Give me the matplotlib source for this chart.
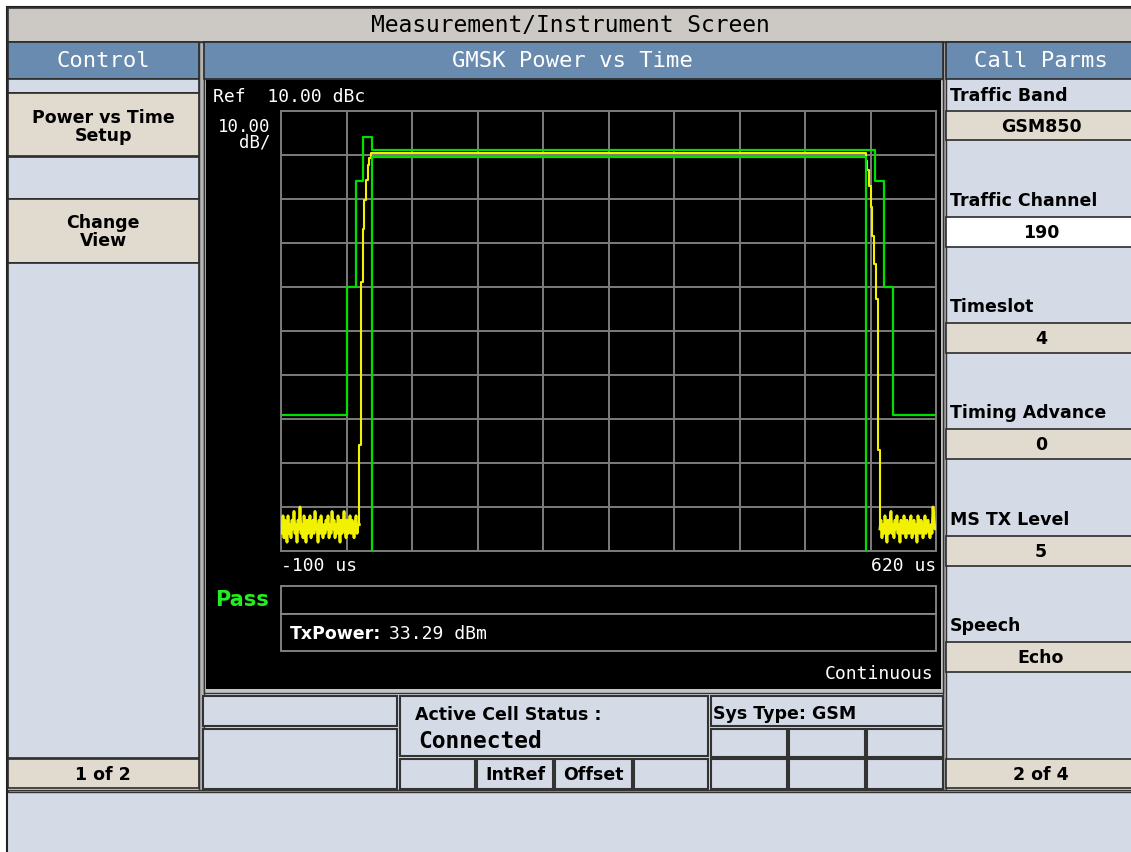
import numpy as np
import matplotlib
matplotlib.use("Agg")
import matplotlib.pyplot as plt
from matplotlib.patches import Rectangle

# ---------------- data ----------------
time_range_us = [-100, 620]
ref_level_dbc = 10.0
db_per_div = 10.0
n_div = 10

# upper limit mask (steps-post)
mask_upper_t = [-100, -28, -18, -10, 0, 552.8, 562.8, 572.8, 620]
mask_upper_db = [-59, -30, -6, 4, 1.2, -6, -30, -59, -59]

# lower limit mask
mask_lower_t = [0, 0, 542.8, 542.8]
mask_lower_db = [-90, -0.4, -0.4, -90]

# measured trace
noise_step_us = 1.1
noise_left_start_us = -100
noise_left_db = [-84, -86, -82, -87, -83, -85, -88, -82, -86, -84,
                 -87, -83, -85, -81, -86, -84, -88, -83, -85, -80,
                 -86, -84, -87, -82, -85, -88, -83, -86, -84, -82,
                 -87, -85, -83, -86, -81, -85, -84, -88, -83, -86,
                 -82, -85, -87, -84, -86, -83, -85, -82, -87, -84,
                 -86, -81, -85, -83, -87, -84, -86, -82, -85, -88,
                 -83, -86, -84, -81, -85, -87, -83, -86, -84, -82,
                 -86, -83, -85, -87, -84, -82, -86, -84]
ramp_up_t = [-13.9, -12.4, -10.2, -8.4, -6.6, -4.7, -2.9, -1.4]
ramp_up_db = [-65.8, -28.8, -16.8, -10.2, -5.6, -2.3, -0.75, 0.4]
ramp_down_t = [543.4, 544.5, 546.4, 548.2, 550.0, 552.2, 554.0, 555.9]
ramp_down_db = [-1.3, -3.3, -7.0, -11.9, -18.3, -24.8, -32.7, -67.0]
noise_right_start_us = 558.4
noise_right_db = [-85, -83, -87, -84, -86, -82, -85, -88, -83, -86,
                  -84, -81, -86, -84, -87, -83, -85, -82, -86, -84,
                  -88, -83, -85, -86, -82, -84, -87, -83, -85, -86,
                  -84, -82, -87, -85, -83, -86, -84, -88, -82, -85,
                  -86, -83, -84, -87, -85, -82, -86, -84, -83, -85,
                  -87, -84, -86, -80, -83, -85]

# screen texts
title_text = "Measurement/Instrument Screen"
left_header = "Control"
center_header = "GMSK Power vs Time"
right_header = "Call Parms"
control_buttons = ["Power vs Time\nSetup", "Change\nView"]
call_parm_labels = ["Traffic Band", "Traffic Channel", "Timeslot",
                    "Timing Advance", "MS TX Level", "Speech"]
call_parm_values = ["GSM850", "190", "4", "0", "5", "Echo"]
tx_power_label = "TxPower:"
tx_power_value = "33.29 dBm"

# ---------------- style ----------------
LB = "#d4dbe6"
BLUE = "#688baf"
BEIGE = "#e1dace"
TITLE = "#ccc9c4"
GREEN = "#00e000"
YELLOW = "#f2f200"
GRID = "#7c7c7c"
MONO = "DejaVu Sans Mono"
SANS = "DejaVu Sans"

W, H = 1131, 853
fig = plt.figure(figsize=(W / 100, H / 100), dpi=100)
fig.patch.set_facecolor("white")

bg = fig.add_axes([0, 0, 1, 1])
bg.set_xlim(0, W)
bg.set_ylim(H, 0)
bg.axis("off")


def box(x0, y0, x1, y1, fc, ec="#2b2b2b", lw=1.2, z=1):
    bg.add_patch(Rectangle((x0, y0), x1 - x0, y1 - y0, facecolor=fc,
                           edgecolor=ec if ec else "none", linewidth=lw, zorder=z))


def txt(x, y, s, **kw):
    kw.setdefault("va", "center")
    bg.text(x, y, s, zorder=5, **kw)


# overall screen
box(7, 8, 1140, 870, LB, ec="#222", lw=1.5)
box(8, 9, 1140, 42.5, TITLE, ec="#333")
txt(570, 25, title_text, ha="center", family=MONO, fontsize=16.5, color="black")

# left column
box(8, 43, 199, 79.5, BLUE)
box(8, 80, 199, 93.5, LB)
box(8, 94, 199, 157, BEIGE)
box(8, 158, 199, 199.5, LB)
box(8, 200, 199, 263.5, BEIGE)
box(8, 264, 199, 759, LB)
box(8, 759.5, 199, 789, BEIGE)
txt(103, 61, left_header, ha="center", family=MONO, fontsize=16, color="white")
txt(103, 127, control_buttons[0], ha="center", family=SANS, fontsize=12.5,
    fontweight="bold", linespacing=0.95)
txt(103, 232, control_buttons[1], ha="center", family=SANS, fontsize=12.5,
    fontweight="bold", linespacing=0.95)
txt(103, 775, "1 of 2", ha="center", family=SANS, fontsize=12.5, fontweight="bold")

# separators
box(199, 43, 204, 792, "#b4b4b4", ec="#333", lw=1)
box(943, 43, 946, 792, "#b4b4b4", ec="#333", lw=1)

# center
box(204, 43, 943, 79.5, BLUE)
txt(572, 61, center_header, ha="center", family=MONO, fontsize=16, color="white")
box(204, 79.5, 943, 693.5, "#c4c4c4", ec="#333", lw=1)
box(206, 80.5, 941, 690, "black", ec=None)

# right column
box(946, 43, 1140, 79.5, BLUE)
txt(1041, 61, right_header, ha="center", family=MONO, fontsize=16, color="white")
value_boxes = [(112, 141), (218, 248), (324, 354), (430, 460), (537, 567), (643, 673)]
label_y = [96, 201, 307, 413, 520, 626]
for (y0, y1), ly, lab, val in zip(value_boxes, label_y, call_parm_labels, call_parm_values):
    fc = "white" if val == "190" else BEIGE
    box(946, y0, 1140, y1, fc)
    txt(950, ly, lab, ha="left", family=SANS, fontsize=12.5, fontweight="bold")
    txt(1041, (y0 + y1) / 2, val, ha="center", family=SANS, fontsize=12.5, fontweight="bold")
box(946, 759.5, 1140, 789, BEIGE)
txt(1041, 775, "2 of 4", ha="center", family=SANS, fontsize=12.5, fontweight="bold")

# bottom strip line
box(8, 790.5, 1140, 793, "#b4b4b4", ec="#333", lw=1)

# status area
for (x0, y0, x1, y1) in [(203, 697, 397, 727), (203, 730, 397, 790), (400, 697, 708, 757),
                         (400, 760, 475, 790), (477, 760, 553, 790), (555, 760, 632, 790),
                         (634, 760, 708, 790), (711, 697, 943, 727),
                         (711, 730, 787, 758), (789, 730, 865, 758), (867, 730, 943, 758),
                         (711, 760, 787, 790), (789, 760, 865, 790), (867, 760, 943, 790)]:
    box(x0, y0, x1, y1, LB, ec="#333", lw=1.5, z=2)
txt(415, 715, "Active Cell Status :", ha="left", family=SANS, fontsize=12.5, fontweight="bold")
txt(418, 741, "Connected", ha="left", family=MONO, fontsize=16.5, fontweight="bold")
txt(713, 714, "Sys Type: GSM", ha="left", family=SANS, fontsize=12.5, fontweight="bold")
txt(515, 775, "IntRef", ha="center", family=SANS, fontsize=12.5, fontweight="bold")
txt(593, 775, "Offset", ha="center", family=SANS, fontsize=12.5, fontweight="bold")

# plot-area texts and boxes
txt(213, 97, "Ref  10.00 dBc", ha="left", family=MONO, fontsize=13, color="white")
txt(270, 135, "10.00\ndB/", ha="right", family=MONO, fontsize=12.5, color="white",
    linespacing=0.85, multialignment="right")
txt(281, 566, "-100 us", ha="left", family=MONO, fontsize=13, color="white")
txt(936, 566, "620 us", ha="right", family=MONO, fontsize=13, color="white")
txt(242, 600, "Pass", ha="center", family=SANS, fontsize=15, fontweight="bold", color="#22ee22")
box(281, 587, 936, 615, "black", ec="#8a8a8a", lw=1.3, z=2)
box(281, 615, 936, 652, "black", ec="#8a8a8a", lw=1.3, z=2)
txt(290, 634, tx_power_label, ha="left", family=SANS, fontsize=12.5, fontweight="bold", color="white")
txt(389, 634, tx_power_value, ha="left", family=MONO, fontsize=13, color="white")
txt(934, 674, "Continuous", ha="right", family=MONO, fontsize=13, color="white")

# ---------------- the graticule plot ----------------
ax = fig.add_axes([281 / W, 1 - 552 / H, 655 / W, 440 / H], zorder=3)
ax.set_facecolor("black")
bottom_db = ref_level_dbc - n_div * db_per_div
ax.set_xlim(*time_range_us)
ax.set_ylim(bottom_db, ref_level_dbc)
ax.set_xticks(np.linspace(time_range_us[0], time_range_us[1], n_div + 1))
ax.set_yticks(np.linspace(bottom_db, ref_level_dbc, n_div + 1))
ax.tick_params(length=0, labelbottom=False, labelleft=False)
ax.grid(True, color=GRID, linewidth=1.4)
for sp in ax.spines.values():
    sp.set_color(GRID)
    sp.set_linewidth(1.4)

noise_left_t = list(noise_left_start_us + noise_step_us * np.arange(len(noise_left_db)))
noise_right_t = list(noise_right_start_us + noise_step_us * np.arange(len(noise_right_db)))

# noise floor segments (plain lines -> dense band)
ax.plot(noise_left_t + [ramp_up_t[0]], noise_left_db + [noise_left_db[-1]],
        color=YELLOW, lw=2.0, zorder=3)
ax.plot(noise_right_t + [time_range_us[1]], noise_right_db + [noise_right_db[-1]],
        color=YELLOW, lw=2.0, zorder=3)
# burst (steps)
burst_t = [noise_left_t[-1]] + ramp_up_t + ramp_down_t + [noise_right_t[0]]
burst_db = [noise_left_db[-1]] + ramp_up_db + ramp_down_db + [noise_right_db[0]]
ax.plot(burst_t, burst_db, color=YELLOW, lw=1.5, drawstyle="steps-post", zorder=3)

ax.plot(mask_upper_t, mask_upper_db, color=GREEN, lw=1.6, drawstyle="steps-post", zorder=4)
ax.plot(mask_lower_t, mask_lower_db, color=GREEN, lw=1.6, zorder=4)

fig.savefig("out.png", dpi=100, facecolor=fig.get_facecolor())
